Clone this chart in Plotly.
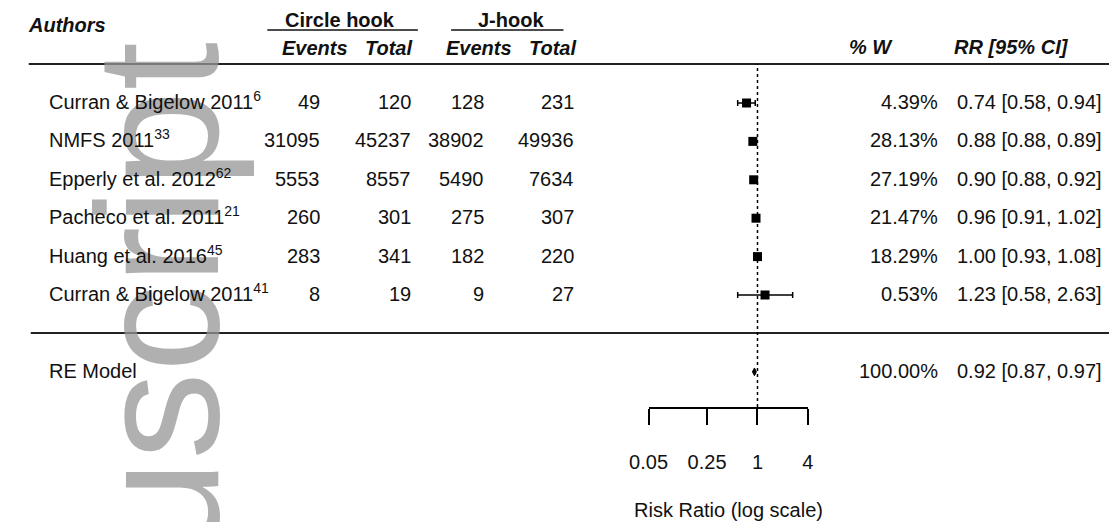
import math
import plotly.graph_objects as go

# ---------------- data ----------------
authors = ["Curran & Bigelow 2011", "NMFS 2011", "Epperly et al. 2012",
           "Pacheco et al. 2011", "Huang et al. 2016", "Curran & Bigelow 2011"]
refs = ["6", "33", "62", "21", "45", "41"]
circle_events = [49, 31095, 5553, 260, 283, 8]
circle_total = [120, 45237, 8557, 301, 341, 19]
j_events = [128, 38902, 5490, 275, 182, 9]
j_total = [231, 49936, 7634, 307, 220, 27]
weights = [4.39, 28.13, 27.19, 21.47, 18.29, 0.53]
rr = [0.74, 0.88, 0.90, 0.96, 1.00, 1.23]
ci_lo = [0.58, 0.88, 0.88, 0.91, 0.93, 0.58]
ci_hi = [0.94, 0.89, 0.92, 1.02, 1.08, 2.63]
re_label = "RE Model"
re_weight = 100.00
re_est, re_lo, re_hi = 0.92, 0.87, 0.97
tick_vals = [0.05, 0.25, 1, 4]
tick_text = ["0.05", "0.25", "1", "4"]

# ---------------- layout constants ----------------
W, H = 1115, 522
PLOT_BOTTOM = 407          # pixel row of the x axis line
ROW0, ROWSTEP = 103, 38.4  # pixel centre of first study row and spacing
FONT = "Liberation Sans, Arial, Helvetica, sans-serif"
FS = 20
INK = "#111111"

def row_of_px(py):
    return (py - ROW0) / ROWSTEP

def paper_y(py):
    return 1 - py / PLOT_BOTTOM

def px_x(px):
    return px / W

rows = list(range(len(authors)))
re_row = len(authors) + 1

fig = go.Figure()

# study estimates with CIs
fig.add_trace(go.Scatter(
    x=rr, y=rows, mode="markers",
    marker=dict(symbol="square", size=9, color="black"),
    error_x=dict(type="data", symmetric=False,
                 array=[h - e for h, e in zip(ci_hi, rr)],
                 arrayminus=[e - l for e, l in zip(rr, ci_lo)],
                 color="black", thickness=1.5, width=3),
    hoverinfo="skip", showlegend=False, cliponaxis=False))

# summary diamond
dh = 0.1
fig.add_trace(go.Scatter(
    x=[re_lo, re_est, re_hi, re_est, re_lo],
    y=[re_row, re_row - dh, re_row, re_row + dh, re_row],
    mode="lines", fill="toself", fillcolor="black",
    line=dict(color="black", width=1), hoverinfo="skip", showlegend=False))

annotations = []

# watermark (drawn first so everything else sits on top)
annotations.append(dict(
    text="Author Manuscript", textangle=-90, showarrow=False,
    xref="paper", yref="paper", x=px_x(141), y=paper_y(40),
    xanchor="center", yanchor="top",
    font=dict(family=FONT, size=175, color="rgba(150,150,150,0.75)")))

def txt(text, xpx, ypx, xanchor="left", size=FS, row_bottom=False):
    d = dict(text=text, showarrow=False, xref="paper", yref="y",
             x=px_x(xpx), xanchor=xanchor,
             font=dict(family=FONT, size=size, color=INK))
    if row_bottom:
        d.update(y=row_of_px(ypx), yanchor="bottom", yshift=-12)
    else:
        d.update(y=row_of_px(ypx), yanchor="middle")
    annotations.append(d)

# headers
txt("<b><i>Authors</i></b>", 7, 25)
txt("<b>Circle hook</b>", 328, 20, "center")
txt("<b>J-hook</b>", 503, 20, "center")
txt("<b><i>Events</i></b>", 303, 48, "center")
txt("<b><i>Total</i></b>", 378, 48, "center")
txt("<b><i>Events</i></b>", 471, 48, "center")
txt("<b><i>Total</i></b>", 546, 48, "center")
txt("<b><i>% W</i></b>", 872, 47, "center")
txt("<b><i>RR [95% CI]</i></b>", 1015, 47, "center")

# study rows
for i in rows:
    py = ROW0 + ROWSTEP * i
    txt(f"{authors[i]}<sup>{refs[i]}</sup>", 29, py, "left", row_bottom=True)
    txt(str(circle_events[i]), 310, py, "right", row_bottom=True)
    txt(str(circle_total[i]), 403, py, "right", row_bottom=True)
    txt(str(j_events[i]), 478, py, "right", row_bottom=True)
    txt(str(j_total[i]), 570, py, "right", row_bottom=True)
    txt(f"{weights[i]:.2f}%", 942, py, "right", row_bottom=True)
    txt(f"{rr[i]:.2f} [{ci_lo[i]:.2f}, {ci_hi[i]:.2f}]", 1110, py, "right", row_bottom=True)

# summary row
py = ROW0 + ROWSTEP * re_row
txt(re_label, 29, py, "left", row_bottom=True)
txt(f"{re_weight:.2f}%", 942, py, "right", row_bottom=True)
txt(f"{re_est:.2f} [{re_lo:.2f}, {re_hi:.2f}]", 1110, py, "right", row_bottom=True)

# axis title
annotations.append(dict(
    text="Risk Ratio (log scale)", showarrow=False, xref="paper", yref="paper",
    x=px_x(726), y=paper_y(510), xanchor="center", yanchor="middle",
    font=dict(family=FONT, size=FS, color=INK)))

shapes = [
    # header rule
    dict(type="line", xref="paper", yref="paper", x0=px_x(10), x1=1,
         y0=paper_y(64), y1=paper_y(64), line=dict(color="#222", width=2)),
    # separator above summary
    dict(type="line", xref="paper", yref="paper", x0=px_x(12), x1=1,
         y0=paper_y(333), y1=paper_y(333), line=dict(color="#222", width=2)),
    # underlines of group headers
    dict(type="line", xref="paper", yref="paper", x0=px_x(254), x1=px_x(408),
         y0=paper_y(30), y1=paper_y(30), line=dict(color="#111", width=1.5)),
    dict(type="line", xref="paper", yref="paper", x0=px_x(442), x1=px_x(557),
         y0=paper_y(30), y1=paper_y(30), line=dict(color="#111", width=1.5)),
    # reference line at RR = 1
    dict(type="line", xref="x", yref="paper", x0=1, x1=1,
         y0=0, y1=paper_y(64), line=dict(color="black", width=1.5, dash="dot")),
]

fig.update_layout(
    width=W, height=H, autosize=False,
    margin=dict(l=0, r=0, t=0, b=H - PLOT_BOTTOM, pad=0),
    paper_bgcolor="white", plot_bgcolor="rgba(0,0,0,0)",
    showlegend=False,
    annotations=annotations, shapes=shapes,
    xaxis=dict(type="log", domain=[px_x(644), px_x(807)],
               range=[math.log10(tick_vals[0]), math.log10(tick_vals[-1])],
               showgrid=False, zeroline=False,
               showline=True, linecolor="black", linewidth=1.5,
               ticks="outside", ticklen=16, tickwidth=1.5, tickcolor="black",
               tickvals=tick_vals, ticktext=tick_text,
               ticklabelstandoff=20,
               tickfont=dict(family=FONT, size=FS, color=INK)),
    yaxis=dict(visible=False, range=[row_of_px(PLOT_BOTTOM), row_of_px(0)],
               fixedrange=True),
)

fig.write_html("out.html")
